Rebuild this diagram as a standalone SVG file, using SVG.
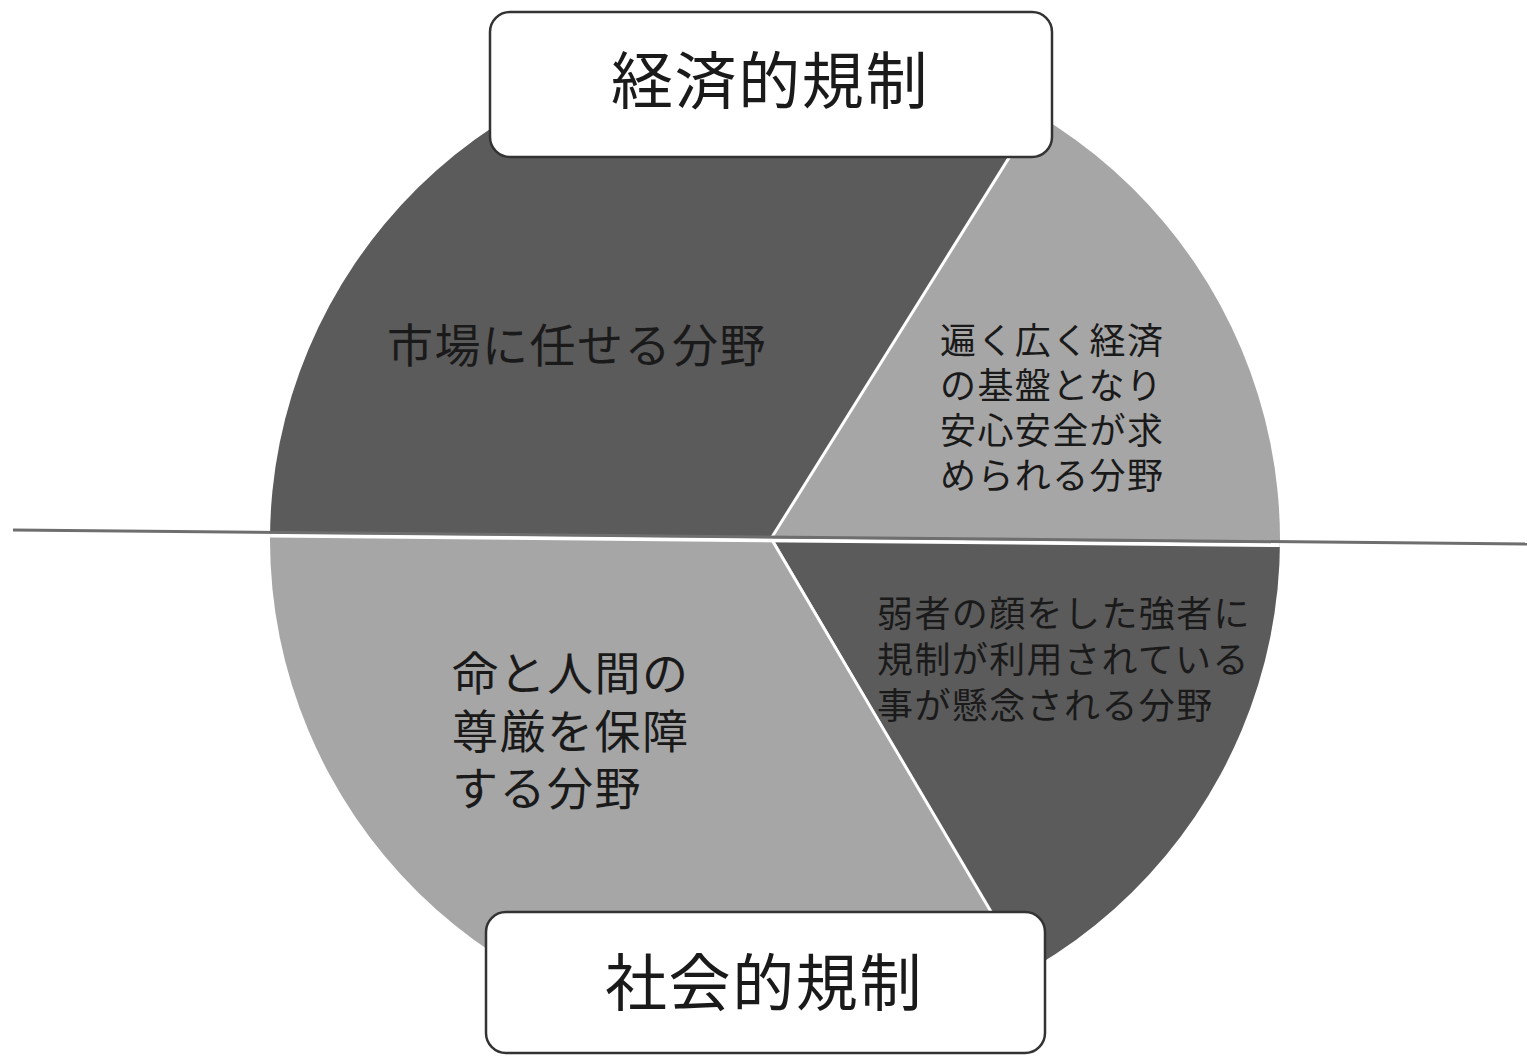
<svg xmlns="http://www.w3.org/2000/svg" width="1527" height="1057" viewBox="0 0 1527 1057">
<defs>
<style>
.t{font-family:"Noto Sans CJK JP","Noto Sans CJK SC",sans-serif;fill:#1a1a1a;}
.title{font-size:62px;letter-spacing:1.6px;}
.big{font-size:46px;letter-spacing:1.5px;}
.sm{font-size:36px;letter-spacing:1.4px;}
.box{fill:#fff;stroke:#333;stroke-width:2.5;}
.dark{fill:#5b5b5b;}
.light{fill:#a6a6a6;}
.div{stroke:#fff;stroke-width:3;fill:none;}
</style>
<clipPath id="pie"><ellipse cx="775" cy="540" rx="505" ry="498"/></clipPath>
</defs>
<rect width="1527" height="1057" fill="#fff"/>
<g id="pie-chart" clip-path="url(#pie)">
<polygon id="seg-market" class="dark" points="772,537 1242,-215 0,-215 0,530"/>
<polygon id="seg-infra" class="light" points="772,537 1242,-215 1600,-215 1600,545"/>
<polygon id="seg-weak" class="dark" points="772,537 1600,545 1600,1100 1102,1100"/>
<polygon id="seg-life" class="light" points="772,537 1102,1100 0,1100 0,530"/>
<line class="div" x1="772" y1="537" x2="1242" y2="-215"/>
<line class="div" x1="772" y1="540" x2="1102" y2="1100"/>
<line x1="0" y1="533" x2="1600" y2="548" stroke="#fff" stroke-width="4"/>
</g>
<g id="connectors">
<line x1="13" y1="530" x2="1527" y2="544" stroke="#6e6e6e" stroke-width="3"/>
</g>
<g id="label-market">
<text class="t big" x="387" y="362">市場に任せる分野</text>
</g>
<g id="label-infra">
<text class="t sm"><tspan x="940" y="354">遍く広く経済</tspan><tspan x="940" y="399">の基盤となり</tspan><tspan x="940" y="444">安心安全が求</tspan><tspan x="940" y="489">められる分野</tspan></text>
</g>
<g id="label-weak">
<text class="t sm"><tspan x="877" y="627">弱者の顔をした強者に</tspan><tspan x="877" y="673">規制が利用されている</tspan><tspan x="877" y="719">事が懸念される分野</tspan></text>
</g>
<g id="label-life">
<text class="t big"><tspan x="452" y="690">命と人間の</tspan><tspan x="452" y="748">尊厳を保障</tspan><tspan x="452" y="805">する分野</tspan></text>
</g>
<g id="node-economic">
<rect class="box" x="490" y="12" width="562" height="145" rx="20"/>
<text class="t title" x="611" y="104">経済的規制</text>
</g>
<g id="node-social">
<rect class="box" x="486" y="912" width="559" height="141" rx="20"/>
<text class="t title" x="605" y="1006">社会的規制</text>
</g>
</svg>
